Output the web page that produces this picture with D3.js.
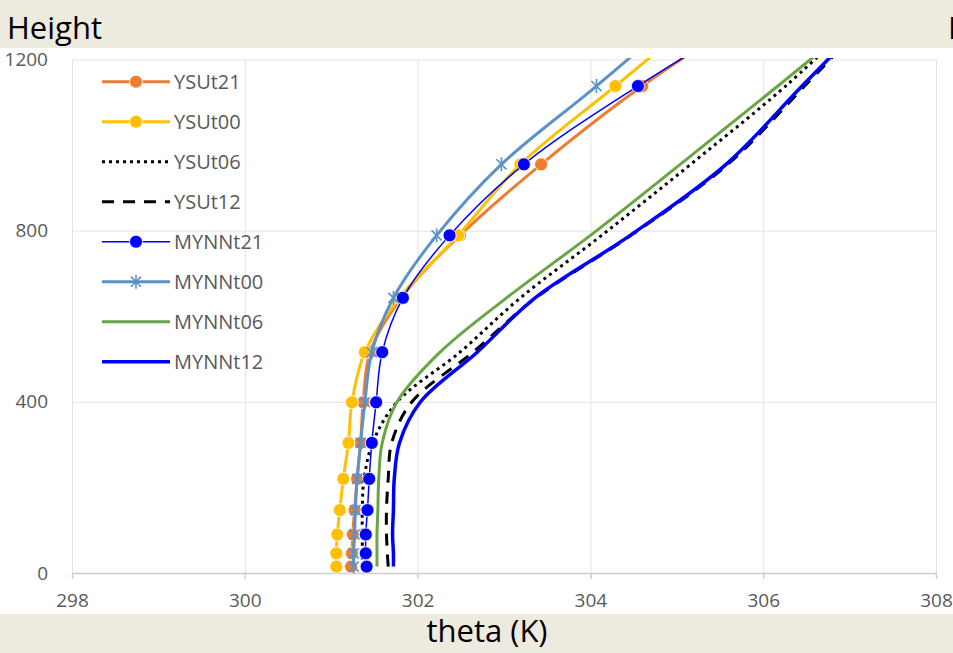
<!DOCTYPE html>
<html>
<head>
<meta charset="utf-8">
<script src="https://cdnjs.cloudflare.com/ajax/libs/d3/7.8.5/d3.min.js"></script>
<style>
  body { margin: 0; background: #fff; }
  svg { display: block; font-family: "Open Sans", sans-serif; }
</style>
</head>
<body>
<script>
//Data----------------------------------------------------------------------------------------
var heights = [15, 46, 90, 147, 220, 304, 399, 516, 643, 789, 955, 1138, 1355];

var ysuT21  = [301.23, 301.24, 301.25, 301.27, 301.30, 301.34, 301.37, 301.45, 301.81, 302.49, 303.43, 304.60, 306.23];
var ysuT00  = [301.06, 301.06, 301.07, 301.10, 301.14, 301.20, 301.24, 301.39, 301.79, 302.47, 303.19, 304.29, 305.59];
var ysuT06  = [301.36, 301.36, 301.36, 301.36, 301.38, 301.48, 301.76, 302.49, 303.19, 304.13, 305.16, 306.26, 307.40];
var ysuT12  = [301.66, 301.65, 301.64, 301.64, 301.66, 301.70, 301.93, 302.64, 303.37, 304.47, 305.59, 306.48, 307.50];
var mynnT21 = [301.41, 301.40, 301.40, 301.42, 301.44, 301.47, 301.52, 301.59, 301.83, 302.37, 303.23, 304.55, 306.33];
var mynnT00 = [301.26, 301.26, 301.27, 301.28, 301.30, 301.34, 301.39, 301.47, 301.72, 302.22, 302.97, 304.07, 305.33];
var mynnT06 = [301.53, 301.53, 301.53, 301.54, 301.55, 301.59, 301.76, 302.26, 303.03, 304.00, 305.04, 306.17, 307.48];
var mynnT12 = [301.72, 301.72, 301.71, 301.72, 301.73, 301.79, 302.03, 302.69, 303.36, 304.46, 305.57, 306.45, 307.50];

var seriesNames = ["YSUt21", "YSUt00", "YSUt06", "YSUt12", "MYNNt21", "MYNNt00", "MYNNt06", "MYNNt12"];
var xTicks = [298, 300, 302, 304, 306, 308];
var yTicks = [0, 400, 800, 1200];

//Styles --------------------------------------------------------------------------------------
var styles = {
  "YSUt21":  { color: "#ed7d31", width: 3,   dash: null,  marker: "circle" },
  "YSUt00":  { color: "#ffc000", width: 3,   dash: null,  marker: "circle" },
  "YSUt06":  { color: "#000",    width: 3,   dash: "3,4", marker: null },
  "YSUt12":  { color: "#000",    width: 3,   dash: "12,9", marker: null },
  "MYNNt21": { color: "#0000ff", width: 1.5, dash: null,  marker: "circle" },
  "MYNNt00": { color: "#5b93c9", width: 3,   dash: null,  marker: "star" },
  "MYNNt06": { color: "#68a544", width: 3,   dash: null,  marker: null },
  "MYNNt12": { color: "#0000ff", width: 3.5, dash: null,  marker: null }
};
var values = [ysuT21, ysuT00, ysuT06, ysuT12, mynnT21, mynnT00, mynnT06, mynnT12];

var W = 953, H = 653;
var beige = "#edeae0";
var grey = "#595959";

var svg = d3.select("body").append("svg")
  .attr("width", W)
  .attr("height", H);

//Background
svg.append("rect").attr("width", W).attr("height", H).attr("fill", beige);
svg.append("rect").attr("x", 0).attr("y", 48).attr("width", W).attr("height", 566).attr("fill", "#fff");

svg.append("text").attr("x", 7).attr("y", 39).attr("font-size", 31).attr("fill", "#000").text("Height");
// neighbouring label, cut by the right edge as in the original screenshot
svg.append("text").attr("x", 948).attr("y", 39).attr("font-size", 31).attr("fill", "#000").text("H");
svg.append("text").attr("x", 487).attr("y", 642).attr("text-anchor", "middle")
  .attr("font-size", 31).attr("fill", "#000").text("theta (K)");

//Scales + axes ------------------------------------------------------------------------------
var x = d3.scaleLinear().domain([298, 308]).range([72, 936]);
var y = d3.scaleLinear().domain([0, 1200]).range([573, 59.5]);

// gridlines
svg.append("g")
  .attr("transform", "translate(0,573)")
  .call(d3.axisBottom(x).tickValues(xTicks).tickSize(-(573 - 59.5)).tickFormat(""))
  .call(function(g) { g.select(".domain").remove(); })
  .selectAll("line").attr("stroke", "#e3e3e3").attr("stroke-width", 1);

svg.append("g")
  .attr("transform", "translate(72,0)")
  .call(d3.axisLeft(y).tickValues(yTicks.slice(1)).tickSize(-(936 - 72)).tickFormat(""))
  .call(function(g) { g.select(".domain").remove(); })
  .selectAll("line").attr("stroke", "#e3e3e3").attr("stroke-width", 1);

// x axis
var xAxis = svg.append("g")
  .attr("transform", "translate(0,573)")
  .call(d3.axisBottom(x).tickValues(xTicks).tickFormat(d3.format("d"))
    .tickSize(6).tickSizeOuter(0).tickPadding(15));
xAxis.select(".domain").attr("stroke", "#cdcdcd").attr("stroke-width", 1.5);
xAxis.selectAll("line").attr("stroke", "#cdcdcd").attr("stroke-width", 1.5);
xAxis.selectAll("text").attr("fill", grey).attr("font-size", 19).attr("font-family", "Open Sans");

// y axis (labels only)
var yAxis = svg.append("g")
  .attr("transform", "translate(72,0)")
  .call(d3.axisLeft(y).tickValues(yTicks).tickFormat(d3.format("d")).tickSize(0).tickPadding(24));
yAxis.select(".domain").remove();
yAxis.selectAll("text").attr("fill", grey).attr("font-size", 19).attr("font-family", "Open Sans");

//Series -------------------------------------------------------------------------------------
svg.append("clipPath").attr("id", "plotclip")
  .append("rect").attr("x", 0).attr("y", 58).attr("width", W).attr("height", 530);

var plot = svg.append("g").attr("clip-path", "url(#plotclip)");

var line = d3.line()
  .x(function(d) { return x(d.t); })
  .y(function(d) { return y(d.h); })
  .curve(d3.curveCatmullRom.alpha(0.5));

function starPath(s) {
  var r = s / 2, d = r * 0.72;
  return "M0," + (-r) + "L0," + r + "M" + (-d) + "," + (-d) + "L" + d + "," + d +
         "M" + (-d) + "," + d + "L" + d + "," + (-d);
}

function drawMarker(g, st, cx, cy) {
  if (st.marker == "circle") {
    g.append("circle").attr("cx", cx).attr("cy", cy).attr("r", 6.5)
      .attr("fill", st.color).attr("stroke", "#fff").attr("stroke-width", 0.8);
  } else if (st.marker == "star") {
    g.append("path").attr("d", starPath(14))
      .attr("transform", "translate(" + cx + "," + cy + ")")
      .attr("fill", "none").attr("stroke", st.color).attr("stroke-width", 1.6);
  }
}

seriesNames.forEach(function(name, i) {
  var st = styles[name];
  var pts = heights.map(function(h, j) { return { h: h, t: values[i][j] }; });
  var g = plot.append("g");
  g.append("path")
    .attr("d", line(pts))
    .attr("fill", "none")
    .attr("stroke", st.color)
    .attr("stroke-width", st.width)
    .attr("stroke-dasharray", st.dash);
  if (st.marker) {
    pts.forEach(function(p) {
      if (p.h <= 1200) drawMarker(g, st, x(p.t), y(p.h));
    });
  }
});

//Legend -------------------------------------------------------------------------------------
var legend = svg.append("g");
seriesNames.forEach(function(name, i) {
  var st = styles[name];
  var ly = 81.7 + i * 40;
  legend.append("line")
    .attr("x1", 102).attr("x2", 170).attr("y1", ly).attr("y2", ly)
    .attr("stroke", st.color).attr("stroke-width", st.width)
    .attr("stroke-dasharray", st.dash);
  drawMarker(legend, st, 136, ly);
  legend.append("text")
    .attr("x", 174).attr("y", ly).attr("dy", "0.35em")
    .attr("font-size", 20).attr("fill", grey)
    .text(name);
});
</script>
</body>
</html>
